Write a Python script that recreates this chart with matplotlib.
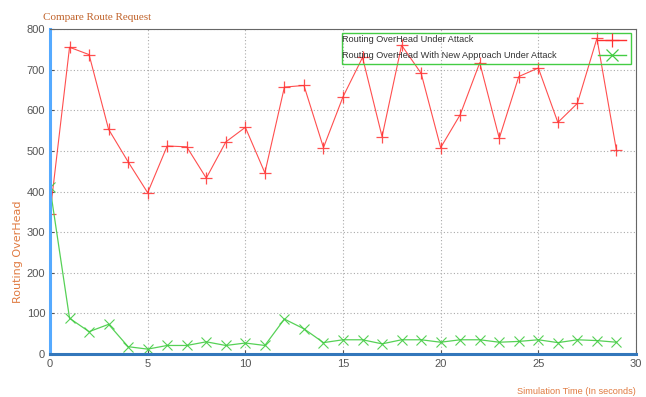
import matplotlib
matplotlib.use("Agg")
import matplotlib.pyplot as plt
from matplotlib.lines import Line2D
from matplotlib.patches import Rectangle

time_s = list(range(30))
overhead_attack = [345, 755, 737, 553, 473, 397, 512, 510, 433, 522,
                   558, 446, 657, 661, 508, 633, 730, 535, 760, 691,
                   508, 589, 717, 531, 683, 704, 570, 617, 777, 501]
overhead_new = [410, 88, 55, 73, 18, 12, 21, 21, 30, 21,
                27, 21, 86, 62, 28, 35, 35, 25, 35, 35,
                29, 35, 35, 29, 31, 35, 28, 35, 33, 29]
series_labels = ["Routing OverHead Under Attack",
                 "Routing OverHead With New Approach Under Attack"]
x_ticks = [0, 5, 10, 15, 20, 25, 30]
y_ticks = [0, 100, 200, 300, 400, 500, 600, 700, 800]

sans = ["Liberation Sans", "DejaVu Sans"]

W, H = 646, 397
fig = plt.figure(figsize=(W / 100, H / 100), dpi=100)
ax = fig.add_axes([50 / W, 1 - 354 / H, 586 / W, 325 / H])

red = "#ff3030"
green = "#44cc44"
styles = [dict(color=red, lw=0.8, marker="+", ms=8, mew=0.9, alpha=0.85),
          dict(color=green, lw=0.9, marker="x", ms=7, mew=0.8, alpha=0.9)]
ax.plot(time_s, overhead_attack, **styles[0])
ax.plot(time_s, overhead_new, **styles[1])

ax.set_xlim(0, 30)
ax.set_ylim(0, 800)
ax.set_xticks(x_ticks)
ax.set_yticks(y_ticks)
ax.tick_params(labelsize=8, colors="#555555", length=3, direction="in")
for lab in ax.get_xticklabels() + ax.get_yticklabels():
    lab.set_family(sans)
ax.grid(True, ls=(0, (1, 2)), color="#aaaaaa", lw=0.8)

for side in ("top", "right"):
    ax.spines[side].set_color("#666666")
    ax.spines[side].set_linewidth(0.8)
ax.spines["left"].set_color("#55aaff")
ax.spines["left"].set_linewidth(2.2)
ax.spines["bottom"].set_color("#3377bb")
ax.spines["bottom"].set_linewidth(2.2)

# gnuplot-style key: labels on the left, line samples on the right
def fx(px):
    return px / W

def fy(py):
    return 1 - py / H

fig.patches.append(Rectangle((fx(342), fy(64)), fx(631) - fx(342), fy(33) - fy(64),
                             transform=fig.transFigure, facecolor="none",
                             edgecolor=green, lw=1.0, zorder=5))
for i, (label, st) in enumerate(zip(series_labels, styles)):
    yy = fy(40 + 15 * i)
    fig.text(fx(342), yy, label, fontsize=6.6, color="#333333",
             family=sans, va="center", ha="left", zorder=6)
    fig.add_artist(Line2D([fx(598), fx(626)], [yy, yy], transform=fig.transFigure,
                          color=st["color"], lw=1.0, zorder=6))
    fig.add_artist(Line2D([fx(612)], [yy], transform=fig.transFigure,
                          color=st["color"], marker=st["marker"],
                          ms=10 if i == 0 else 8, mew=0.9, lw=0, zorder=6))

fig.text(43 / W, 1 - 18 / H, "Compare Route Request",
         family=["Liberation Serif", "DejaVu Serif"],
         fontsize=8, color="#c0622a", va="center", ha="left")
fig.text(18 / W, 1 - 252 / H, "Routing OverHead", rotation=90,
         fontsize=8, color="#e07a40", va="center", ha="center")
fig.text(636 / W, 1 - 391 / H, "Simulation Time (In seconds)",
         fontsize=6.6, color="#e07a40", family=sans, va="center", ha="right")

fig.savefig("out.png", dpi=100)
